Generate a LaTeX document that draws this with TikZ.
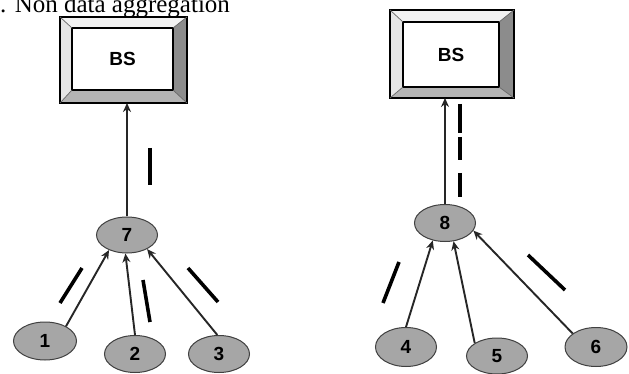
\documentclass[tikz,border=0pt]{standalone}
\usepackage{fontspec}
\setmainfont{Liberation Serif}
\setsansfont{Liberation Sans}
\usetikzlibrary{shapes.geometric,arrows.meta}
\definecolor{nodegray}{HTML}{A6A6A6}
\definecolor{bevtop}{HTML}{F2F2F2}
\definecolor{bevleft}{HTML}{E6E6E6}
\definecolor{bevright}{HTML}{8C8C8C}
\definecolor{bevbot}{HTML}{B4B4B4}
\definecolor{linegray}{HTML}{262626}
\tikzset{
  sensor/.style={ellipse, draw=black!75, line width=1pt, fill=nodegray, inner sep=0pt,
    font=\sffamily\bfseries\fontsize{19}{19}\selectfont},
  bslabel/.style={draw=none, inner sep=0pt, font=\sffamily\bfseries\fontsize{19}{19}\selectfont},
  link/.style={draw=linegray, line width=1.9pt, -{Stealth[length=9pt,width=8pt]}},
  tick/.style={draw=black, line width=3.6pt},
}
\newcommand{\bevelbox}[9]{%
  \fill[bevtop] (#2,#3) -- (#4,#3) -- (#8,#7) -- (#6,#7) -- cycle;
  \fill[bevleft] (#2,#3) -- (#6,#7) -- (#6,#9) -- (#2,#5) -- cycle;
  \fill[bevright] (#4,#3) -- (#4,#5) -- (#8,#9) -- (#8,#7) -- cycle;
  \fill[bevbot] (#2,#5) -- (#6,#9) -- (#8,#9) -- (#4,#5) -- cycle;
  \draw[black, line width=1.6pt] (#2,#3) rectangle (#4,#5);
  \draw[black, line width=1.4pt, fill=white] (#6,#7) rectangle (#8,#9);
  \draw[black!60, line width=0.7pt] (#2,#3) -- (#6,#7) (#4,#3) -- (#8,#7) (#2,#5) -- (#6,#9) (#4,#5) -- (#8,#9);
  \node[bslabel] (#1) at ({(#6+#8)/2},{(#7+#9)/2}) {BS};
  \coordinate (#1-bottom) at ({(#2+#4)/2},#5);
}
\begin{document}
\begin{tikzpicture}[x=1pt,y=-1pt]
\useasboundingbox (0,0) rectangle (629,374);
\clip (0,0) rectangle (629,374);
\fill[white] (0,0) rectangle (629,374);

\node[anchor=base west, inner sep=0pt, font=\fontsize{25}{25}\selectfont] (title) at (0,13) {. Non data aggregation};

% Base stations
\bevelbox{bsL}{60}{17}{187}{103}{72}{28}{173}{90}
\bevelbox{bsR}{390}{10}{514}{98}{403}{22}{499}{87}

% Left cluster
\node[sensor, minimum width=61pt, minimum height=36pt] (n7) at (127,235) {7};
\node[sensor, minimum width=63pt, minimum height=38pt] (n1) at (45,341) {1};
\node[sensor, minimum width=61pt, minimum height=37pt] (n2) at (135,354) {2};
\node[sensor, minimum width=61pt, minimum height=37pt] (n3) at (219,354) {3};

% Right cluster
\node[sensor, minimum width=61pt, minimum height=37pt] (n8) at (445,223) {8};
\node[sensor, minimum width=61pt, minimum height=39pt] (n4) at (406,347) {4};
\node[sensor, minimum width=61pt, minimum height=36pt] (n5) at (497,356) {5};
\node[sensor, minimum width=62pt, minimum height=39pt] (n6) at (596,347) {6};

% Links
\draw[link] (n7.north) -- (n7.north |- bsL-bottom);
\draw[link] (n1.35) -- (n7.220);
\draw[link] (n2.north) -- (n7.265);
\draw[link] (n3.95) -- (n7.-35);

\draw[link] (n8.north) -- (n8.north |- bsR-bottom);
\draw[link] (n4.north) -- (n8.235);
\draw[link] (n5.150) -- (n8.-65);
\draw[link] (n6.150) -- (n8.-15);

% Packet marks
\draw[tick] (150,148) -- (150,185);
\draw[tick] (60,303) -- (82,268);
\draw[tick] (143,280) -- (150,322);
\draw[tick] (188,268) -- (218,302);

\draw[tick] (460,104) -- (460,133);
\draw[tick] (460,137) -- (460,160);
\draw[tick] (460,173) -- (460,197);
\draw[tick] (399,262) -- (383,303);
\draw[tick] (528,255) -- (565,290);
\end{tikzpicture}
\end{document}
